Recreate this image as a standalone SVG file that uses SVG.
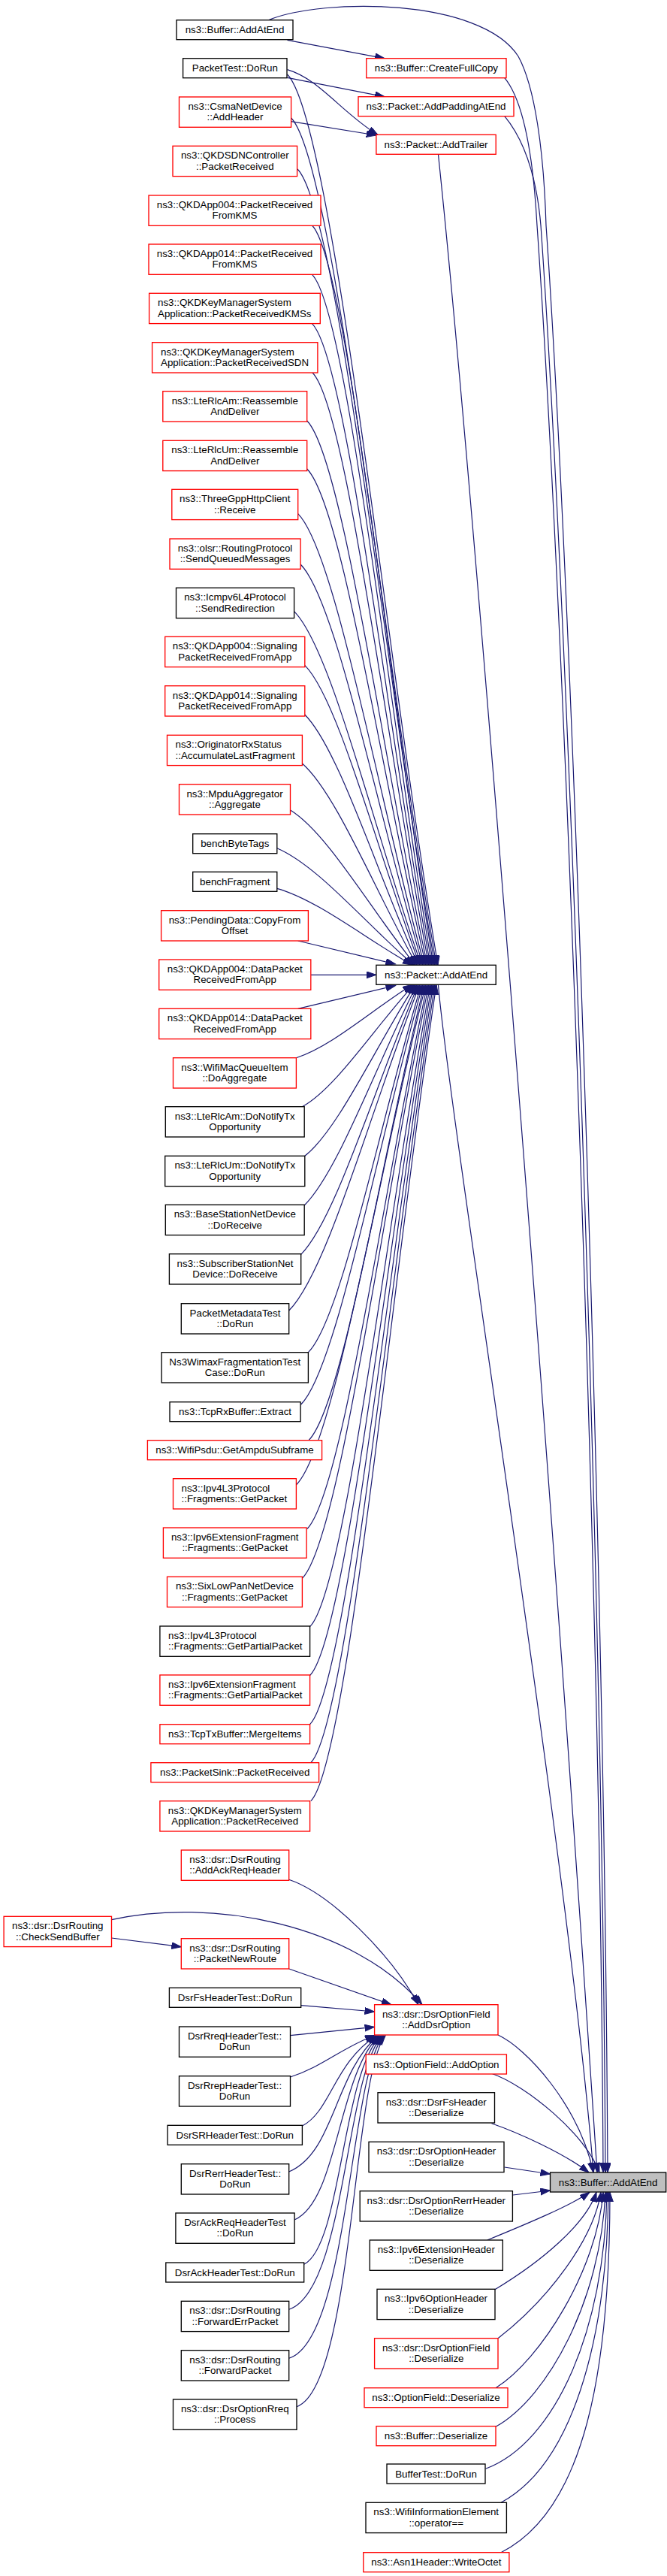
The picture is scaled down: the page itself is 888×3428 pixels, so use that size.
<svg xmlns="http://www.w3.org/2000/svg" width="888" height="3428" viewBox="0 0 888 3428">
<style>
.n rect{fill:#fff;stroke-width:1.33}
.r rect{stroke:#ff0000}
.k rect{stroke:#000}
.g rect{fill:#bfbfbf;stroke:#000}
text{font-family:"Liberation Sans",Arial,Helvetica,sans-serif;font-size:13.33px;fill:#000;text-anchor:middle}
.l text{text-anchor:start}
#edges path{fill:none;stroke:#191970;stroke-width:1.2;marker-end:url(#ah)}
</style>
<defs>
<marker id="ah" markerUnits="userSpaceOnUse" markerWidth="15" markerHeight="11" refX="13" refY="4.5" orient="auto"><path d="M0,0 L13,4.5 L0,9 z" fill="#191970" stroke="#191970" stroke-width="1"/></marker>
</defs>
<rect width="888" height="3428" fill="#fff"/>
<g id="edges">
<path d="M382.5,53.3 L512,77.7"/>
<path d="M357.4,26.7 C430,-3 640,-3 690,75 C712,115 724,200 727,300 C762,800 805,2091 809,2891"/>
<path d="M382.5,103.3 L512,128.7"/>
<path d="M382.5,92.7 C425,105 455,150 503,179.5"/>
<path d="M387.6,161.7 L500.9,180"/>
<path d="M671.6,103.3 C698,135 710,210 715,300 C750,800 799,2091 803,2891"/>
<path d="M671.6,154.3 C697,185 714,230 720,300 C755,800 802,2091 806,2891"/>
<path d="M583.4,204.7 C625,600 730,1900 795,2891"/>
<path d="M583.4,1310.3 C600,1500 760,2500 790,2891"/>
<path d="M382.5,99 c60.3,60.3 130.7,770.3 200.5,1185.3"/>
<path d="M387.6,157 c58,58 125.7,732.7 193.4,1127.3"/>
<path d="M396,225 c54.9,54.9 119,688.5 183,1059.3"/>
<path d="M415.5,300 c48.5,48.5 105,639.8 161.5,984.3"/>
<path d="M415.5,365.3 c47.9,47.9 103.7,597.4 159.5,919"/>
<path d="M415.5,430.7 c47.3,47.3 102.4,554.8 157.5,853.6"/>
<path d="M416,496 c46.5,46.5 100.8,512.4 155,788.3"/>
<path d="M408.7,560 c48.1,48.1 104.2,470.8 160.3,724.3"/>
<path d="M408.7,624 c47.5,47.5 102.9,429.2 158.3,660.3"/>
<path d="M396.7,683.7 c50.5,50.5 109.4,390.4 168.3,600.6"/>
<path d="M400.1,751 c48.9,48.9 105.9,346.6 162.9,533.3"/>
<path d="M391.6,813.7 c50.8,50.8 110.1,305.9 169.4,470.6"/>
<path d="M405.8,885.3 c46,46 99.6,259.4 153.2,399"/>
<path d="M405.8,951 c45.4,45.4 98.3,216.6 151.2,333.3"/>
<path d="M402.4,1016 c45.8,40.2 99.2,174.4 152.6,268.3"/>
<path d="M386.5,1078 c50,30.9 108.2,134.1 166.5,206.3"/>
<path d="M368.8,1128.7 c54.7,23.3 118.4,101.1 182.2,155.6"/>
<path d="M368.8,1182.3 c54.1,15.3 117.1,66.3 180.2,102"/>
<path d="M396.7,1252 L526.5,1283"/>
<path d="M413.8,1297.3 L500.9,1297.3"/>
<path d="M396.7,1342.3 L526.5,1311.5"/>
<path d="M394.4,1407.7 c46.4,-14.6 100.5,-63.3 154.6,-97.4"/>
<path d="M402.4,1472.7 c44.6,-24.4 96.6,-105.6 148.6,-162.4"/>
<path d="M405.8,1538.3 c44.2,-34.2 95.7,-148.2 147.2,-228"/>
<path d="M405.2,1604 c44.9,-44.1 97.4,-190.9 149.8,-293.7"/>
<path d="M400.7,1669.3 c46.9,-46.9 101.6,-233.4 156.3,-359"/>
<path d="M384.7,1744 c52.3,-52.3 113.3,-281.9 174.3,-433.7"/>
<path d="M410.4,1799.7 c45.2,-45.2 97.9,-318.1 150.6,-489.4"/>
<path d="M400.7,1869 c48.7,-48.7 105.5,-363.2 162.3,-558.7"/>
<path d="M411,1916.7 c46.2,-46.2 100.1,-394.2 154,-606.4"/>
<path d="M394.4,1976 c51.8,-51.8 112.2,-432.7 172.6,-665.7"/>
<path d="M408.7,2034.7 c48.1,-48.1 104.2,-470.9 160.3,-724.4"/>
<path d="M402.4,2100.3 c50.6,-50.6 109.6,-513.5 168.6,-790"/>
<path d="M412.6,2164.7 c48.1,-48.1 104.3,-555.4 160.4,-854.4"/>
<path d="M412.6,2229.7 c48.7,-48.7 105.6,-597.6 162.4,-919.4"/>
<path d="M412.6,2294.7 c49.3,-49.3 106.9,-639.4 164.4,-984.4"/>
<path d="M413.8,2345.7 c49.6,-49.6 107.4,-673 165.2,-1035.4"/>
<path d="M413.8,2396.7 c50.2,-50.2 108.7,-706.2 167.2,-1086.4"/>
<path d="M384.7,2501.3 C440,2520 520,2600 557,2667.7"/>
<path d="M148.5,2554.7 C280,2525 470,2560 562,2667.7"/>
<path d="M148.5,2579 L241.3,2590.7"/>
<path d="M384.7,2620 L521,2667.7"/>
<path d="M400.7,2668.7 L498.6,2677"/>
<path d="M386.5,2708.7 L498.6,2697.3"/>
<path d="M386.5,2764 C430,2750 455,2725 499,2708.5"/>
<path d="M402.4,2829 C440,2810 445,2745 501,2709"/>
<path d="M384.7,2890 C445,2865 445,2760 503,2709"/>
<path d="M392.1,2954 C450,2929 450,2760 505,2709"/>
<path d="M404.7,3013.3 C455,2988 455,2760 507,2709"/>
<path d="M384.7,3073.3 C460,3048 460,2760 509,2709"/>
<path d="M384.7,3138.3 C465,3113 465,2760 511,2709"/>
<path d="M395,3202.7 C470,3177 470,2760 513,2709"/>
<path d="M663,2708 C700,2725 770,2800 790,2891"/>
<path d="M654.5,2759.3 C700,2775 780,2840 798,2891"/>
<path d="M654.5,2825.7 C690,2838 750,2865 784,2891"/>
<path d="M671.6,2884 L732.5,2893"/>
<path d="M683,2921 L732.5,2915"/>
<path d="M648.8,2981 C700,2960 760,2935 785,2917.3"/>
<path d="M659,3046.7 C720,3010 780,2960 794,2917.3"/>
<path d="M663,3111.7 C730,3060 790,2980 800,2917.3"/>
<path d="M660,3177.7 C720,3140 795,3020 803,2917.3"/>
<path d="M660,3229.3 C730,3190 800,3060 806,2917.3"/>
<path d="M646.6,3285.3 C740,3250 805,3100 808,2917.3"/>
<path d="M667,3330.3 C760,3280 808,3120 810,2917.3"/>
<path d="M667,3396.7 C780,3340 812,3150 812,2917.3"/>
</g>
<g id="n_buffer_addatend_caller" class="n k"><rect x="235" y="26.7" width="155" height="26"/><text x="312.5" y="44.2">ns3::Buffer::AddAtEnd</text></g>
<g id="n_packettest_dorun" class="n k"><rect x="243.6" y="77.7" width="138.4" height="26"/><text x="312.8" y="95.2">PacketTest::DoRun</text></g>
<g id="n_csma_addheader" class="n r"><rect x="238.5" y="129" width="149.1" height="40.3"/><text x="313" y="145.9">ns3::CsmaNetDevice</text><text x="313" y="160.4">::AddHeader</text></g>
<g id="n_qkdsdn_packetreceived" class="n r"><rect x="230" y="194.3" width="165.6" height="40.3"/><text x="312.8" y="211.2">ns3::QKDSDNController</text><text x="312.8" y="225.7">::PacketReceived</text></g>
<g id="n_qkdapp004_prfromkms" class="n r"><rect x="198" y="260" width="229" height="40.3"/><text x="312.5" y="276.9">ns3::QKDApp004::PacketReceived</text><text x="312.5" y="291.4">FromKMS</text></g>
<g id="n_qkdapp014_prfromkms" class="n r"><rect x="198" y="325" width="229" height="40.3"/><text x="312.5" y="341.9">ns3::QKDApp014::PacketReceived</text><text x="312.5" y="356.4">FromKMS</text></g>
<g id="n_kms_prkmss" class="n r l"><rect x="198.6" y="390.3" width="227.7" height="40.3"/><text x="210" y="407.2">ns3::QKDKeyManagerSystem</text><text x="210" y="421.7">Application::PacketReceivedKMSs</text></g>
<g id="n_kms_prsdn" class="n r l"><rect x="202.6" y="455.7" width="220.3" height="40.3"/><text x="214" y="472.6">ns3::QKDKeyManagerSystem</text><text x="214" y="487.1">Application::PacketReceivedSDN</text></g>
<g id="n_ltercam_reassemble" class="n r"><rect x="216.8" y="520.7" width="191.9" height="40.3"/><text x="312.75" y="537.6">ns3::LteRlcAm::Reassemble</text><text x="312.75" y="552.1">AndDeliver</text></g>
<g id="n_lterlcum_reassemble" class="n r"><rect x="216.8" y="586.3" width="191.9" height="40.3"/><text x="312.75" y="603.2">ns3::LteRlcUm::Reassemble</text><text x="312.75" y="617.7">AndDeliver</text></g>
<g id="n_threegpp_receive" class="n r"><rect x="228.8" y="651.3" width="167.9" height="40.3"/><text x="312.75" y="668.2">ns3::ThreeGppHttpClient</text><text x="312.75" y="682.7">::Receive</text></g>
<g id="n_olsr_sendqueued" class="n r"><rect x="226" y="717" width="174.1" height="40.3"/><text x="313" y="733.9">ns3::olsr::RoutingProtocol</text><text x="313" y="748.4">::SendQueuedMessages</text></g>
<g id="n_icmpv6_sendredirection" class="n k"><rect x="234.5" y="782.3" width="157.1" height="40.3"/><text x="313" y="799.2">ns3::Icmpv6L4Protocol</text><text x="313" y="813.7">::SendRedirection</text></g>
<g id="n_qkdapp004_signaling" class="n r"><rect x="219.7" y="847.3" width="186.1" height="40.3"/><text x="312.75" y="864.2">ns3::QKDApp004::Signaling</text><text x="312.75" y="878.7">PacketReceivedFromApp</text></g>
<g id="n_qkdapp014_signaling" class="n r"><rect x="219.7" y="912.7" width="186.1" height="40.3"/><text x="312.75" y="929.6">ns3::QKDApp014::Signaling</text><text x="312.75" y="944.1">PacketReceivedFromApp</text></g>
<g id="n_originatorrxstatus" class="n r l"><rect x="222.5" y="978.3" width="179.9" height="40.3"/><text x="233.5" y="995.2">ns3::OriginatorRxStatus</text><text x="233.5" y="1009.7">::AccumulateLastFragment</text></g>
<g id="n_mpduaggregator" class="n r"><rect x="238.5" y="1043.7" width="148" height="40.3"/><text x="312.5" y="1060.6">ns3::MpduAggregator</text><text x="312.5" y="1075.1">::Aggregate</text></g>
<g id="n_benchbytetags" class="n k"><rect x="256.7" y="1109.7" width="112.1" height="26"/><text x="312.75" y="1127.2">benchByteTags</text></g>
<g id="n_benchfragment" class="n k"><rect x="256.7" y="1160.3" width="112.1" height="26"/><text x="312.75" y="1177.8">benchFragment</text></g>
<g id="n_pendingdata" class="n r"><rect x="214.6" y="1211.7" width="195.8" height="40.3"/><text x="312.5" y="1228.6">ns3::PendingData::CopyFrom</text><text x="312.5" y="1243.1">Offset</text></g>
<g id="n_qkdapp004_data" class="n r"><rect x="211.7" y="1277" width="202.1" height="40.3"/><text x="312.75" y="1293.9">ns3::QKDApp004::DataPacket</text><text x="312.75" y="1308.4">ReceivedFromApp</text></g>
<g id="n_qkdapp014_data" class="n r"><rect x="211.7" y="1342.3" width="202.1" height="40.3"/><text x="312.75" y="1359.2">ns3::QKDApp014::DataPacket</text><text x="312.75" y="1373.7">ReceivedFromApp</text></g>
<g id="n_wifimacqueueitem" class="n r"><rect x="230.5" y="1407.7" width="163.9" height="40.3"/><text x="312.45" y="1424.6">ns3::WifiMacQueueItem</text><text x="312.45" y="1439.1">::DoAggregate</text></g>
<g id="n_lterlcam_notify" class="n k"><rect x="220.3" y="1472.7" width="184.9" height="40.3"/><text x="312.75" y="1489.6">ns3::LteRlcAm::DoNotifyTx</text><text x="312.75" y="1504.1">Opportunity</text></g>
<g id="n_lterlcum_notify" class="n k"><rect x="219.7" y="1538.3" width="186.1" height="40.3"/><text x="312.75" y="1555.2">ns3::LteRlcUm::DoNotifyTx</text><text x="312.75" y="1569.7">Opportunity</text></g>
<g id="n_basestation" class="n k"><rect x="220.3" y="1603.3" width="184.9" height="40.3"/><text x="312.75" y="1620.2">ns3::BaseStationNetDevice</text><text x="312.75" y="1634.7">::DoReceive</text></g>
<g id="n_subscriberstation" class="n k"><rect x="225.4" y="1668.7" width="175.3" height="40.3"/><text x="313" y="1685.6">ns3::SubscriberStationNet</text><text x="313" y="1700.1">Device::DoReceive</text></g>
<g id="n_packetmetadatatest" class="n k"><rect x="241.3" y="1734.7" width="143.4" height="40.3"/><text x="313" y="1751.6">PacketMetadataTest</text><text x="313" y="1766.1">::DoRun</text></g>
<g id="n_ns3wimax" class="n k"><rect x="215.1" y="1799.7" width="195.3" height="40.3"/><text x="312.75" y="1816.6">Ns3WimaxFragmentationTest</text><text x="312.75" y="1831.1">Case::DoRun</text></g>
<g id="n_tcprxbuffer" class="n k"><rect x="226" y="1865.7" width="174.1" height="26"/><text x="313" y="1883.2">ns3::TcpRxBuffer::Extract</text></g>
<g id="n_wifipsdu" class="n r"><rect x="196.4" y="1916.7" width="232.2" height="26"/><text x="312.5" y="1934.2">ns3::WifiPsdu::GetAmpduSubframe</text></g>
<g id="n_ipv4_getpacket" class="n r l"><rect x="230.5" y="1967.7" width="163.9" height="40.3"/><text x="241.5" y="1984.6">ns3::Ipv4L3Protocol</text><text x="241.5" y="1999.1">::Fragments::GetPacket</text></g>
<g id="n_ipv6ext_getpacket" class="n r"><rect x="217.4" y="2033" width="190.7" height="40.3"/><text x="312.75" y="2049.9">ns3::Ipv6ExtensionFragment</text><text x="312.75" y="2064.4">::Fragments::GetPacket</text></g>
<g id="n_sixlowpan_getpacket" class="n r"><rect x="222.5" y="2098.3" width="179.9" height="40.3"/><text x="312.45" y="2115.2">ns3::SixLowPanNetDevice</text><text x="312.45" y="2129.7">::Fragments::GetPacket</text></g>
<g id="n_ipv4_getpartial" class="n k l"><rect x="212.9" y="2164" width="199.7" height="40.3"/><text x="224" y="2180.9">ns3::Ipv4L3Protocol</text><text x="224" y="2195.4">::Fragments::GetPartialPacket</text></g>
<g id="n_ipv6ext_getpartial" class="n r l"><rect x="212.9" y="2229" width="199.7" height="40.3"/><text x="224" y="2245.9">ns3::Ipv6ExtensionFragment</text><text x="224" y="2260.4">::Fragments::GetPartialPacket</text></g>
<g id="n_tcptxbuffer" class="n r"><rect x="212.9" y="2294.7" width="199.7" height="26"/><text x="312.75" y="2312.2">ns3::TcpTxBuffer::MergeItems</text></g>
<g id="n_packetsink" class="n r"><rect x="200.9" y="2345.7" width="223.7" height="26"/><text x="312.75" y="2363.2">ns3::PacketSink::PacketReceived</text></g>
<g id="n_kms_packetreceived" class="n r"><rect x="212.9" y="2396.7" width="199.7" height="40.3"/><text x="312.75" y="2413.6">ns3::QKDKeyManagerSystem</text><text x="312.75" y="2428.1">Application::PacketReceived</text></g>
<g id="n_dsr_addackreq" class="n r"><rect x="241.3" y="2462" width="143.4" height="40.3"/><text x="313" y="2478.9">ns3::dsr::DsrRouting</text><text x="313" y="2493.4">::AddAckReqHeader</text></g>
<g id="n_dsr_checksendbuffer" class="n r"><rect x="5.1" y="2550.3" width="143.4" height="40.3"/><text x="76.8" y="2567.2">ns3::dsr::DsrRouting</text><text x="76.8" y="2581.7">::CheckSendBuffer</text></g>
<g id="n_dsr_packetnewroute" class="n r"><rect x="241.3" y="2579.7" width="143.4" height="40.3"/><text x="313" y="2596.6">ns3::dsr::DsrRouting</text><text x="313" y="2611.1">::PacketNewRoute</text></g>
<g id="n_dsrfsheadertest" class="n k"><rect x="225.4" y="2645.3" width="175.3" height="26"/><text x="313" y="2662.8">DsrFsHeaderTest::DoRun</text></g>
<g id="n_dsrrreqheadertest" class="n k"><rect x="238.5" y="2697" width="148" height="40.3"/><text x="312.5" y="2713.9">DsrRreqHeaderTest::</text><text x="312.5" y="2728.4">DoRun</text></g>
<g id="n_dsrrrepheadertest" class="n k"><rect x="238.5" y="2762.7" width="148" height="40.3"/><text x="312.5" y="2779.6">DsrRrepHeaderTest::</text><text x="312.5" y="2794.1">DoRun</text></g>
<g id="n_dsrsrheadertest" class="n k"><rect x="223.1" y="2828.3" width="179.3" height="26"/><text x="312.75" y="2845.8">DsrSRHeaderTest::DoRun</text></g>
<g id="n_dsrrerrheadertest" class="n k"><rect x="241.3" y="2879.7" width="143.4" height="40.3"/><text x="313" y="2896.6">DsrRerrHeaderTest::</text><text x="313" y="2911.1">DoRun</text></g>
<g id="n_dsrackreqheadertest" class="n k"><rect x="233.9" y="2945" width="158.2" height="40.3"/><text x="313" y="2961.9">DsrAckReqHeaderTest</text><text x="313" y="2976.4">::DoRun</text></g>
<g id="n_dsrackheadertest" class="n k"><rect x="220.8" y="3011" width="183.9" height="26"/><text x="312.75" y="3028.5">DsrAckHeaderTest::DoRun</text></g>
<g id="n_dsr_forwarderrpacket" class="n k"><rect x="241.3" y="3062.3" width="143.4" height="40.3"/><text x="313" y="3079.2">ns3::dsr::DsrRouting</text><text x="313" y="3093.7">::ForwardErrPacket</text></g>
<g id="n_dsr_forwardpacket" class="n k"><rect x="241.3" y="3127.7" width="143.4" height="40.3"/><text x="313" y="3144.6">ns3::dsr::DsrRouting</text><text x="313" y="3159.1">::ForwardPacket</text></g>
<g id="n_dsroptionrreq_process" class="n k"><rect x="230.5" y="3193" width="164.5" height="40.3"/><text x="312.75" y="3209.9">ns3::dsr::DsrOptionRreq</text><text x="312.75" y="3224.4">::Process</text></g>
<g id="n_createfullcopy" class="n r"><rect x="487.8" y="77.7" width="186.2" height="26"/><text x="580.9" y="95.2">ns3::Buffer::CreateFullCopy</text></g>
<g id="n_addpaddingatend" class="n r"><rect x="477" y="128.7" width="207" height="26"/><text x="580.5" y="146.2">ns3::Packet::AddPaddingAtEnd</text></g>
<g id="n_addtrailer" class="n r"><rect x="500.9" y="179.3" width="159.3" height="26"/><text x="580.55" y="196.8">ns3::Packet::AddTrailer</text></g>
<g id="n_packet_addatend" class="n k"><rect x="500.9" y="1284.3" width="159.3" height="26"/><text x="580.55" y="1301.8">ns3::Packet::AddAtEnd</text></g>
<g id="n_adddsroption" class="n r"><rect x="498.6" y="2667.7" width="164.4" height="40.3"/><text x="580.8" y="2684.6">ns3::dsr::DsrOptionField</text><text x="580.8" y="2699.1">::AddDsrOption</text></g>
<g id="n_optionfield_addoption" class="n r"><rect x="487.2" y="2734" width="187.2" height="26"/><text x="580.8" y="2751.5">ns3::OptionField::AddOption</text></g>
<g id="n_dsrfsheader_deser" class="n k"><rect x="503" y="2784.7" width="155.5" height="40.3"/><text x="580.75" y="2801.6">ns3::dsr::DsrFsHeader</text><text x="580.75" y="2816.1">::Deserialize</text></g>
<g id="n_dsroptionheader_deser" class="n k"><rect x="491" y="2850.3" width="180" height="40.3"/><text x="581" y="2867.2">ns3::dsr::DsrOptionHeader</text><text x="581" y="2881.7">::Deserialize</text></g>
<g id="n_dsroptionrerr_deser" class="n k"><rect x="479.2" y="2915.7" width="203.2" height="40.3"/><text x="580.8" y="2932.6">ns3::dsr::DsrOptionRerrHeader</text><text x="580.8" y="2947.1">::Deserialize</text></g>
<g id="n_ipv6exthdr_deser" class="n k"><rect x="492.3" y="2981" width="177" height="40.3"/><text x="580.8" y="2997.9">ns3::Ipv6ExtensionHeader</text><text x="580.8" y="3012.4">::Deserialize</text></g>
<g id="n_ipv6opthdr_deser" class="n k"><rect x="502" y="3046.3" width="157" height="40.3"/><text x="580.5" y="3063.2">ns3::Ipv6OptionHeader</text><text x="580.5" y="3077.7">::Deserialize</text></g>
<g id="n_dsroptionfield_deser" class="n r"><rect x="498.6" y="3111.7" width="164.4" height="40.3"/><text x="580.8" y="3128.6">ns3::dsr::DsrOptionField</text><text x="580.8" y="3143.1">::Deserialize</text></g>
<g id="n_optionfield_deser" class="n r"><rect x="485" y="3177.7" width="191" height="26"/><text x="580.5" y="3195.2">ns3::OptionField::Deserialize</text></g>
<g id="n_buffer_deser" class="n r"><rect x="501" y="3228.7" width="159" height="26"/><text x="580.5" y="3246.2">ns3::Buffer::Deserialize</text></g>
<g id="n_buffertest" class="n k"><rect x="515" y="3279" width="131" height="26"/><text x="580.5" y="3296.5">BufferTest::DoRun</text></g>
<g id="n_wifiinfoelement" class="n k"><rect x="487" y="3330.3" width="187.4" height="40.3"/><text x="580.7" y="3347.2">ns3::WifiInformationElement</text><text x="580.7" y="3361.7">::operator==</text></g>
<g id="n_asn1header" class="n r"><rect x="483.8" y="3396.7" width="194.1" height="26"/><text x="580.85" y="3414.2">ns3::Asn1Header::WriteOctet</text></g>
<g id="n_main_buffer_addatend" class="n g"><rect x="732.5" y="2891" width="154.2" height="26"/><text x="809.6" y="2908.5">ns3::Buffer::AddAtEnd</text></g>
</svg>
